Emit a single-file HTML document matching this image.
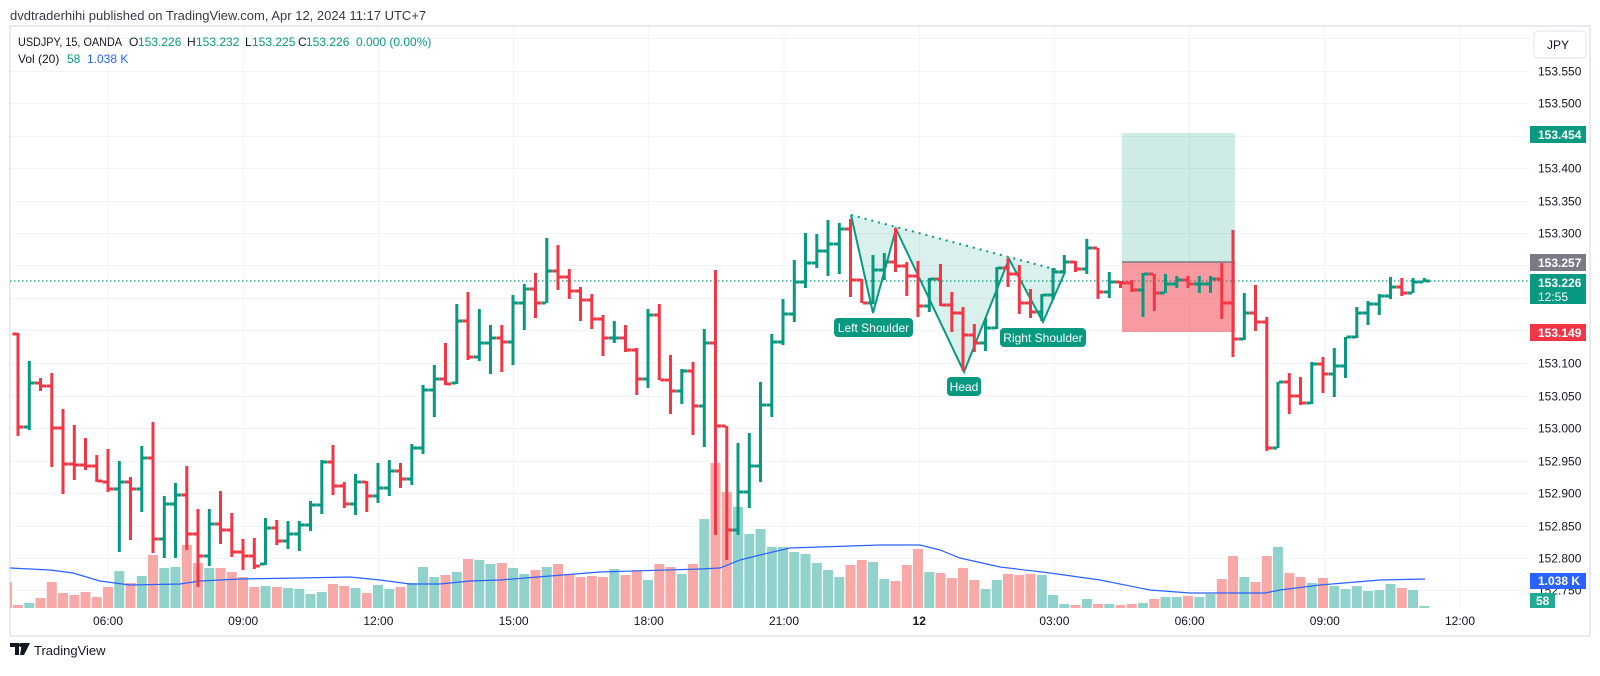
<!DOCTYPE html>
<html><head><meta charset="utf-8">
<style>
html,body{margin:0;padding:0;background:#fff;}
body{width:1600px;height:671px;overflow:hidden;font-family:"Liberation Sans",sans-serif;}
svg text{font-family:"Liberation Sans",sans-serif;}
</style></head>
<body>
<svg id="c" width="1600" height="671" xmlns="http://www.w3.org/2000/svg">
<rect width="1600" height="671" fill="#fff"/>
<text x="10" y="20" font-size="13" fill="#363a45">dvdtraderhihi published on TradingView.com, Apr 12, 2024 11:17 UTC+7</text>
<rect x="10" y="26" width="1580" height="610" fill="none" stroke="#e0e3eb" stroke-width="1.5"/>
<g id="grid"></g>
<g id="vol"></g>
<polyline fill="none" stroke="#2962ff" stroke-width="1.2" points="10,568 50,570 73,573 100,581 130,585 180,584 200,581 240,579 300,578 350,577 380,580 410,584 440,584 470,581 500,580 600,572 700,569 720,568 740,560 760,555 790,548 850,546 880,545 920,545 940,550 960,558 1000,567 1050,573 1100,580 1150,590 1190,593 1265,593 1280,590 1320,585 1380,580 1425,579"/>
<line x1="10" y1="281" x2="1530" y2="281" stroke="#089981" stroke-width="1.2" stroke-dasharray="1.5,2.5"/>
<rect x="1122" y="133" width="113" height="129" fill="#089981" fill-opacity="0.2"/>
<rect x="1122" y="262" width="113" height="70" fill="#f23645" fill-opacity="0.5"/>
<line x1="1122" y1="262" x2="1235" y2="262" stroke="#787b86" stroke-width="1.5"/>
<polygon points="851,215 873,313 896,229 964,372 1009,259 1043,322 1065,272" fill="#089981" fill-opacity="0.15"/>
<polyline points="851,215 873,313 896,229 964,372 1009,259 1043,322 1065,272" fill="none" stroke="#089981" stroke-width="2"/>
<line x1="851" y1="215" x2="1065" y2="272" stroke="#089981" stroke-width="2" stroke-dasharray="2,5"/>
<g id="bars"></g>
<rect x="834" y="318" width="79" height="19" rx="4" fill="#089981"/>
<text x="873.5" y="332" font-size="12" fill="#fff" text-anchor="middle">Left Shoulder</text>
<rect x="947" y="377" width="34" height="19" rx="4" fill="#089981"/>
<text x="964" y="391" font-size="12" fill="#fff" text-anchor="middle">Head</text>
<rect x="1000" y="328" width="86" height="19" rx="4" fill="#089981"/>
<text x="1043" y="342" font-size="12" fill="#fff" text-anchor="middle">Right Shoulder</text>
<g font-size="12" fill="#131722">
<text x="18" y="46" textLength="104" lengthAdjust="spacingAndGlyphs">USDJPY, 15, OANDA</text>
<text x="129" y="46">O</text><text x="138" y="46" fill="#089981">153.226</text>
<text x="187" y="46">H</text><text x="196" y="46" fill="#089981">153.232</text>
<text x="245" y="46">L</text><text x="252" y="46" fill="#089981">153.225</text>
<text x="298" y="46">C</text><text x="306" y="46" fill="#089981">153.226</text>
<text x="356" y="46" fill="#089981">0.000 (0.00%)</text>
<text x="18" y="63">Vol (20)</text>
<text x="67" y="63" fill="#089981">58</text>
<text x="87" y="63" fill="#2962ff">1.038 K</text>
</g>
<g id="axis"></g>
<rect x="1534" y="31" width="52" height="27" rx="4" fill="#fff" stroke="#e0e3eb"/>
<text x="1547" y="49" font-size="12" fill="#131722">JPY</text>
<rect x="1530" y="126" width="56" height="17" fill="#089981"/>
<text x="1538" y="139" font-size="12" fill="#fff" font-weight="bold">153.454</text>
<rect x="1530" y="254" width="56" height="17" fill="#787b86"/>
<text x="1538" y="267" font-size="12" fill="#fff" font-weight="bold">153.257</text>
<rect x="1530" y="274" width="56" height="30" fill="#089981"/>
<text x="1538" y="287" font-size="12" fill="#fff" font-weight="bold">153.226</text>
<text x="1538" y="301" font-size="12" fill="#fff">12:55</text>
<rect x="1530" y="324" width="56" height="17" fill="#f23645"/>
<text x="1538" y="337" font-size="12" fill="#fff" font-weight="bold">153.149</text>
<rect x="1530" y="573" width="56" height="16" fill="#2962ff"/>
<text x="1538" y="585" font-size="12" fill="#fff" font-weight="bold">1.038 K</text>
<rect x="1530" y="593" width="25" height="15" fill="#22ab94"/>
<text x="1536" y="605" font-size="12" fill="#fff" font-weight="bold">58</text>
<path d="M10,643 h9 v12 h-4 v-8 h-5z M22,643 h8 l-6,12 h-4z" fill="#131722"/>
<circle cx="21" cy="645" r="2" fill="#131722"/>
<text x="34" y="655" font-size="13" fill="#131722">TradingView</text>
</svg>
<script>
var NS="http://www.w3.org/2000/svg";
function el(p,t,a,txt){var e=document.createElementNS(NS,t);for(var k in a)e.setAttribute(k,a[k]);if(txt!==undefined)e.textContent=txt;p.appendChild(e);return e;}
function Y(p){return 363+(153.1-p)*650;}
var grid=document.getElementById('grid'),axis=document.getElementById('axis');
for(var i=0;i<=17;i++){var p=153.6-i*0.05;var y=Math.round(Y(p))+0.5;
 el(grid,'line',{x1:11,y1:y,x2:1530,y2:y,stroke:'#f0f3fa','stroke-width':1});
 if(i>=1) el(axis,'text',{x:1538,y:y+4,'font-size':12,fill:'#131722'},p.toFixed(3));}
var tl=['06:00','09:00','12:00','15:00','18:00','21:00','12','03:00','06:00','09:00','12:00'];
for(var i=0;i<11;i++){var x=108+135.2*i;
 el(grid,'line',{x1:x,y1:27,x2:x,y2:608,stroke:'#f0f3fa','stroke-width':1});
 var t=el(axis,'text',{x:x,y:625,'font-size':12,fill:'#131722','text-anchor':'middle'},tl[i]);
 if(tl[i]=='12')t.setAttribute('font-weight','bold');}
var B=[[334,333,436,427],[427,361,430,383],[383,378,391,386],[386,373,467,428],[428,409,494,464],[464,425,480,465],[465,438,470,466],[466,455,482,481],[482,449,492,489],[489,461,552,482],[482,477,540,489],[489,446,512,458],[458,422,553,539],[539,496,558,504],[504,483,558,495],[495,466,550,534],[534,509,587,556],[556,509,566,524],[524,491,544,530],[530,513,557,552],[552,539,570,556],[556,538,569,566],[564,518,565,528],[528,520,545,541],[541,521,549,534],[534,521,551,525],[525,501,531,505],[505,460,514,462],[462,445,495,486],[486,482,508,504],[504,474,515,482],[482,481,512,496],[496,463,503,488],[488,460,496,471],[471,463,488,479],[479,444,485,448],[448,385,454,390],[390,365,417,379],[379,343,385,384],[383,304,384,321],[321,292,360,357],[357,309,361,343],[343,325,374,338],[338,325,372,342],[342,295,365,303],[303,284,330,289],[289,273,318,303],[303,238,303,271],[271,245,290,277],[277,269,299,291],[291,287,321,300],[300,294,329,319],[319,315,356,338],[338,321,343,338],[338,325,352,350],[350,348,395,379],[379,309,388,315],[315,304,380,380],[380,355,414,391],[391,369,404,371],[371,362,435,406],[406,329,447,343],[343,270,535,426],[426,426,560,530],[530,443,535,492],[492,433,508,466],[466,382,482,405],[405,334,417,342],[342,299,345,314],[314,260,322,282],[282,233,288,263],[263,234,268,251],[251,220,276,244],[244,223,274,229],[229,219,297,280],[280,279,303,303],[303,255,304,270],[270,253,280,262],[262,228,272,266],[266,262,296,276],[276,261,317,306],[306,278,312,279],[279,264,306,305],[305,292,332,313],[313,307,371,335],[335,324,352,343],[343,318,351,328],[328,267,329,268],[268,258,287,274],[274,265,314,303],[303,289,318,312],[312,294,321,295],[295,268,300,272],[272,255,273,262],[262,261,272,269],[269,239,274,248],[248,248,299,292],[292,272,298,282],[282,281,288,283],[283,280,292,290],[290,273,317,274],[274,274,311,293],[293,274,293,284],[284,276,288,280],[280,276,288,284],[284,276,293,284],[284,276,293,279],[279,263,319,303],[303,230,357,339],[339,293,340,313],[313,285,331,322],[322,317,451,448],[448,382,448,382],[382,373,414,396],[396,377,405,403],[403,362,404,364],[364,357,393,374],[374,348,397,366],[366,337,378,337],[337,307,338,313],[313,301,325,304],[304,294,315,296],[296,277,299,287],[287,278,296,293],[293,278,293,282],[282,278,282,281]];
var V=[605,603,598,582,593,595,592,597,587,571,583,576,555,568,567,545,563,568,568,572,577,587,586,587,588,589,594,592,584,586,588,593,585,589,587,583,567,577,575,572,559,560,564,563,568,574,570,567,564,574,577,576,577,569,575,570,580,564,567,574,564,519,463,492,507,534,529,547,547,552,554,563,570,577,565,560,562,579,581,565,549,572,573,578,568,580,589,580,574,575,574,575,595,604,605,599,604,604,605,604,603,599,597,597,596,597,594,579,556,577,582,556,547,573,577,583,578,586,589,586,591,590,584,588,590,606];
var bars=document.getElementById('bars'),vol=document.getElementById('vol');
el(vol,'rect',{x:10,y:582,width:2,height:26,fill:'#f7a9a7'});
for(var i=0;i<B.length;i++){var t=i-8;var x=108+11.25*t;var b=B[i];var g=b[3]<=b[0];
 var c=g?'#089981':'#f23645';
 var vt=V[i];el(vol,'rect',{x:(x-5).toFixed(1),y:vt,width:10,height:608-vt,fill:g?'#92d2cc':'#f7a9a7'});
 el(bars,'rect',{x:(x-1.5).toFixed(1),y:b[1],width:3,height:Math.max(3,b[2]-b[1]),fill:c});
 el(bars,'rect',{x:(x-5.5).toFixed(1),y:b[0]-1.5,width:4.5,height:3,fill:c});
 el(bars,'rect',{x:(x+1).toFixed(1),y:b[3]-1.5,width:4.5,height:3,fill:c});}
</script>
</body></html>
